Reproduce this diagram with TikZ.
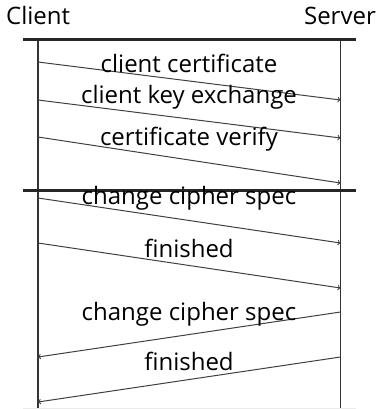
\documentclass[tikz,border=0pt]{standalone}
\usepackage{fontspec}
\setmainfont{Open Sans}

\begin{document}
\begin{tikzpicture}[x=1pt,y=-1pt,
    lbl/.style={font=\fontsize{24}{28}\selectfont,inner sep=0pt,anchor=base},
    sepline/.style={line width=2.2pt,black!85},
    lifeline/.style={line width=1.2pt,black!80},
    msg/.style={line width=1pt,black!75,->}]
  \useasboundingbox (0,0) rectangle (378,409);
  % parties
  \node[lbl,anchor=base west] (client) at (6,25) {Client};
  \node[lbl,anchor=base east] (server) at (376,25) {Server};
  % lifelines
  \coordinate (ctop) at (38,39);
  \coordinate (cbot) at (38,409);
  \coordinate (stop) at (340.5,39);
  \coordinate (sbot) at (340.5,409);
  \draw[lifeline] (ctop) -- (cbot);
  \draw[lifeline] (stop) -- (sbot);
  % separators
  \coordinate (sepAl) at (23,39.5);
  \coordinate (sepAr) at (356,39.5);
  \coordinate (sepBl) at (23,190.5);
  \coordinate (sepBr) at (356,190.5);
  \coordinate (sepCl) at (23,408);
  \coordinate (sepCr) at (356,408);
  \draw[sepline] (sepAl) -- (sepAr);
  \draw[sepline] (sepBl) -- (sepBr);
  \draw[black!8,line width=1pt] (sepCl) -- (sepCr);
  % client to server
  \coordinate (c1) at (38,62);   \coordinate (s1) at (340.5,100);
  \coordinate (c2) at (38,100);  \coordinate (s2) at (340.5,138);
  \coordinate (c3) at (38,137);  \coordinate (s3) at (340.5,183);
  \coordinate (c4) at (38,198);  \coordinate (s4) at (340.5,243);
  \coordinate (c5) at (38,243);  \coordinate (s5) at (340.5,288);
  \draw[msg] (c1) -- (s1);
  \draw[msg] (c2) -- (s2);
  \draw[msg] (c3) -- (s3);
  \draw[msg] (c4) -- (s4);
  \draw[msg] (c5) -- (s5);
  % server to client
  \coordinate (s6) at (340.5,312); \coordinate (c6) at (38,357);
  \coordinate (s7) at (340.5,357); \coordinate (c7) at (38,402);
  \draw[msg] (s6) -- (c6);
  \draw[msg] (s7) -- (c7);
  % labels
  \node[lbl] (m1) at (189,73) {client certificate};
  \node[lbl] (m2) at (189,103) {client key exchange};
  \node[lbl] (m3) at (189,145) {certificate verify};
  \node[lbl] (m4) at (189,204) {change cipher spec};
  \node[lbl] (m5) at (189,257) {finished};
  \node[lbl] (m6) at (189,320) {change cipher spec};
  \node[lbl] (m7) at (189,370) {finished};
\end{tikzpicture}
\end{document}
